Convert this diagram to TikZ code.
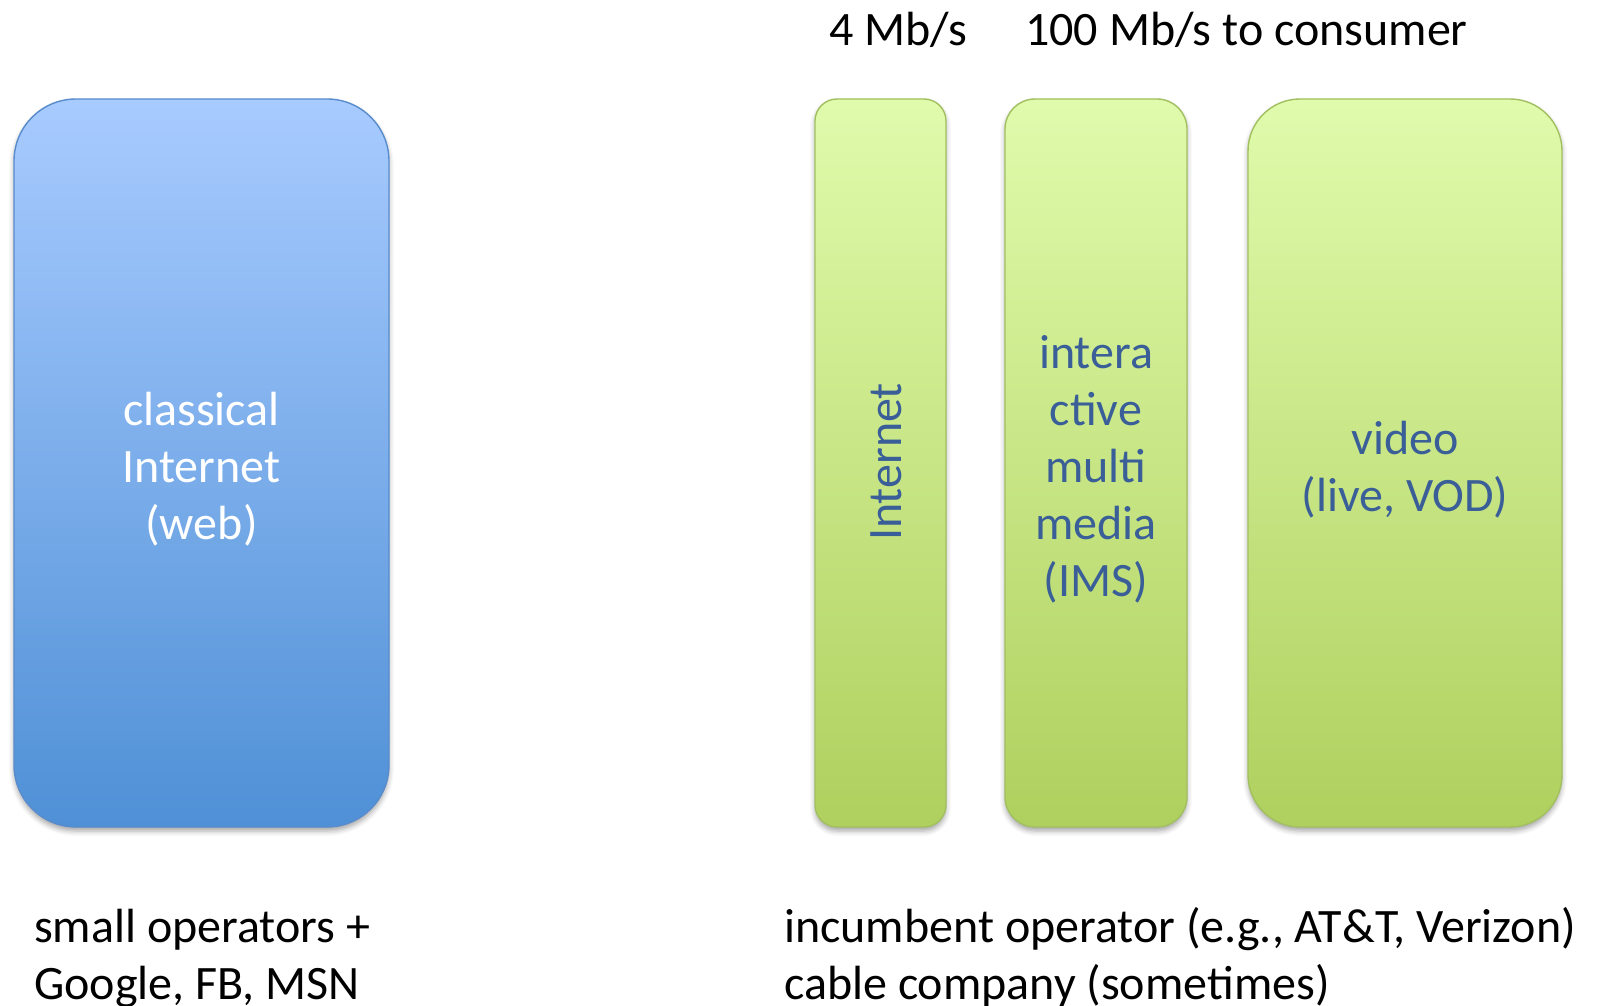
\documentclass[tikz,border=0pt]{standalone}
\usepackage{fontspec}
\setmainfont{Carlito}
\usetikzlibrary{shadows.blur}

\definecolor{bluetop}{RGB}{168,203,255}
\definecolor{bluebot}{RGB}{79,144,214}
\definecolor{blueedge}{RGB}{88,140,204}
\definecolor{greentop}{RGB}{224,251,172}
\definecolor{greenbot}{RGB}{175,208,94}
\definecolor{greenedge}{RGB}{162,192,96}
\definecolor{labelblue}{RGB}{58,94,152}

\tikzset{
  x=1pt, y=1pt,
  bigfont/.style={font=\fontsize{48}{57}\selectfont},
  panel/.style={rectangle, inner sep=0pt, line width=1.4pt,
    blur shadow={shadow xshift=0pt, shadow yshift=-4pt,
                 shadow blur radius=5pt, shadow opacity=35}},
  bluepanel/.style={panel, draw=blueedge, top color=bluetop,
    bottom color=bluebot},
  greenpanel/.style={panel, draw=greenedge, top color=greentop,
    bottom color=greenbot},
  paneltext/.style={bigfont, inner sep=0pt, align=center},
  caption/.style={bigfont, text=black, inner sep=0pt, align=left}
}

\begin{document}
\begin{tikzpicture}
\useasboundingbox (0,0) rectangle (1601,-1006);

% left column: the classical Internet
\node[bluepanel, minimum width=375pt, minimum height=728pt,
      rounded corners=62pt] (web) at (201.5,-463) {};
\node[paneltext, text=white] (webtext) at ([yshift=-6pt]web.center)
      {classical\\Internet\\(web)};

% right column: the incumbent's three service silos
\node[greenpanel, minimum width=131pt, minimum height=728pt,
      rounded corners=22pt] (inet) at (880.5,-463) {};
\node[paneltext, text=labelblue, rotate=90] (inettext)
      at (886,-462) {Internet};

\node[greenpanel, minimum width=182pt, minimum height=728pt,
      rounded corners=30pt] (ims) at (1096,-463) {};
\node[paneltext, text=labelblue] (imstext) at ([yshift=-6pt]ims.center)
      {intera\\ctive\\multi\\media\\(IMS)};

\node[greenpanel, minimum width=314pt, minimum height=728pt,
      rounded corners=52pt] (video) at (1405,-463) {};
\node[paneltext, text=labelblue] (videotext) at ([yshift=-7pt]video.center)
      {video\\(live, VOD)};

% rates above the silos
\node[caption, anchor=base west] (rate4) at (829,-46) {4 Mb/s};
\node[caption, anchor=base west] (rate100) at (1025,-46) {100 Mb/s to consumer};

% who runs each side (the anchor sits on the second line's baseline)
\node[caption, anchor=base west] (small) at (34,-999)
      {small operators +\\Google, FB, MSN};
\node[caption, anchor=base west] (incumbent) at (784,-999)
      {incumbent operator (e.g., AT\&T, Verizon)\\cable company (sometimes)};
\end{tikzpicture}
\end{document}
